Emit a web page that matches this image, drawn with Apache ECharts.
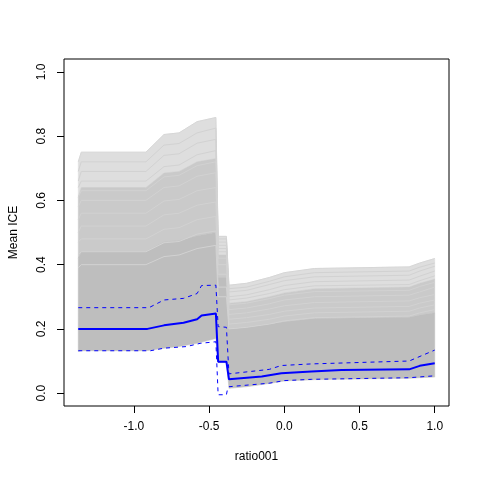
<!DOCTYPE html>
<html>
<head>
<meta charset="utf-8">
<script src="https://cdn.jsdelivr.net/npm/echarts@6/dist/echarts.min.js"></script>
<style>
  html, body { margin: 0; padding: 0; background: #fff; }
  #chart-ice { width: 480px; height: 480px; }
</style>
</head>
<body>
<div id="chart-ice"></div>
<script>
// grid of x values shared by the grey ICE curves and their envelopes
var xGrid = [-1.37, -1.35, -0.92, -0.80, -0.70, -0.58, -0.455, -0.44, -0.385, -0.368, -0.25, -0.10, 0.00, 0.20, 0.83, 0.90, 1.00];

// envelopes of the grey curves: bottom, top of the solid part, top of the medium part, top of everything
var iceLower = [0.130, 0.132, 0.132, 0.140, 0.145, 0.155, 0.170, 0.095, 0.095, 0.015, 0.020, 0.030, 0.038, 0.042, 0.046, 0.048, 0.050];
var iceDense = [0.420, 0.440, 0.440, 0.470, 0.475, 0.490, 0.500, 0.360, 0.360, 0.200, 0.205, 0.215, 0.222, 0.232, 0.236, 0.243, 0.250];
var iceMid   = [0.610, 0.640, 0.640, 0.685, 0.690, 0.720, 0.730, 0.430, 0.430, 0.280, 0.285, 0.300, 0.312, 0.325, 0.330, 0.342, 0.355];
var iceTop   = [0.720, 0.750, 0.750, 0.805, 0.810, 0.845, 0.858, 0.488, 0.488, 0.336, 0.342, 0.360, 0.375, 0.388, 0.393, 0.405, 0.419];

// single ICE curves visible in the sparse upper part
var iceCurves = [
    [0.39, 0.40, 0.40, 0.425, 0.430, 0.450, 0.460, 0.30, 0.30, 0.200, 0.205, 0.215, 0.225, 0.235, 0.240, 0.250, 0.260],
    [0.43, 0.44, 0.44, 0.468, 0.472, 0.495, 0.505, 0.33, 0.33, 0.215, 0.220, 0.230, 0.240, 0.250, 0.255, 0.265, 0.275],
    [0.47, 0.48, 0.48, 0.510, 0.515, 0.540, 0.550, 0.37, 0.37, 0.230, 0.235, 0.245, 0.255, 0.265, 0.270, 0.280, 0.290],
    [0.50, 0.52, 0.52, 0.555, 0.560, 0.585, 0.595, 0.40, 0.40, 0.245, 0.250, 0.262, 0.272, 0.282, 0.287, 0.297, 0.307],
    [0.54, 0.56, 0.56, 0.598, 0.603, 0.630, 0.640, 0.42, 0.42, 0.260, 0.265, 0.278, 0.290, 0.300, 0.305, 0.315, 0.330],
    [0.58, 0.60, 0.60, 0.640, 0.645, 0.675, 0.686, 0.44, 0.44, 0.275, 0.280, 0.294, 0.305, 0.316, 0.320, 0.332, 0.345],
    [0.61, 0.63, 0.63, 0.673, 0.678, 0.708, 0.720, 0.45, 0.45, 0.290, 0.296, 0.310, 0.322, 0.334, 0.338, 0.350, 0.365],
    [0.64, 0.66, 0.66, 0.705, 0.710, 0.742, 0.755, 0.46, 0.46, 0.300, 0.306, 0.322, 0.335, 0.347, 0.352, 0.364, 0.380],
    [0.66, 0.69, 0.69, 0.740, 0.745, 0.778, 0.790, 0.47, 0.47, 0.315, 0.320, 0.338, 0.350, 0.362, 0.367, 0.380, 0.395],
    [0.69, 0.72, 0.72, 0.772, 0.777, 0.810, 0.825, 0.48, 0.48, 0.325, 0.330, 0.348, 0.362, 0.375, 0.380, 0.392, 0.405]
];

// mean ICE (solid blue)
var meanX = [-1.37, -0.91, -0.80, -0.67, -0.58, -0.55, -0.455, -0.44, -0.385, -0.368, -0.15, -0.02, 0.18, 0.38, 0.83, 0.90, 1.00];
var meanY = [0.200, 0.200, 0.211, 0.219, 0.230, 0.242, 0.248, 0.098, 0.098, 0.043, 0.052, 0.062, 0.067, 0.072, 0.074, 0.085, 0.093];

// upper and lower band (dashed blue)
var upperX = [-1.37, -0.90, -0.80, -0.67, -0.58, -0.55, -0.455, -0.44, -0.385, -0.368, -0.10, -0.02, 0.18, 0.83, 1.00];
var upperY = [0.266, 0.266, 0.290, 0.295, 0.310, 0.335, 0.336, 0.207, 0.205, 0.060, 0.074, 0.086, 0.091, 0.100, 0.134];
var lowerX = [-1.37, -0.89, -0.80, -0.65, -0.56, -0.455, -0.44, -0.385, -0.378, -0.368, -0.10, 0.00, 0.18, 0.83, 1.00];
var lowerY = [0.132, 0.132, 0.140, 0.145, 0.155, 0.160, -0.005, -0.005, 0.012, 0.020, 0.031, 0.039, 0.043, 0.048, 0.054];

var xTicks = [-1.0, -0.5, 0.0, 0.5, 1.0];
var yTicks = [0.0, 0.2, 0.4, 0.6, 0.8, 1.0];

function pairs(xs, ys) {
    return xs.map(function (x, i) { return [x, ys[i]]; });
}

// filled band between two envelopes, placed through the axes
function band(hi, lo, color) {
    return {
        type: 'custom',
        silent: true,
        data: [0],
        renderItem: function (params, api) {
            var pts = [];
            var i;
            for (i = 0; i < xGrid.length; i++) pts.push(api.coord([xGrid[i], hi[i]]));
            for (i = xGrid.length - 1; i >= 0; i--) pts.push(api.coord([xGrid[i], lo[i]]));
            return {
                type: 'polygon',
                shape: { points: pts },
                style: { fill: color, stroke: color, lineWidth: 0.5 }
            };
        }
    };
}

var echartIce = echarts.init(document.getElementById('chart-ice'));

var txt = { color: '#000', fontFamily: 'Liberation Sans', fontSize: 12 };

var series = [
    band(iceTop, iceMid, '#dedede'),
    band(iceMid, iceDense, '#cacaca'),
    band(iceDense, iceLower, '#bebebe'),
    {
        type: 'line', symbol: 'none', silent: true,
        lineStyle: { width: 1, color: '#d6d6d6' },
        data: pairs(xGrid, iceTop)
    }
];

iceCurves.forEach(function (c) {
    series.push({
        type: 'line', symbol: 'none', silent: true,
        lineStyle: { width: 1, color: '#d2d2d2' },
        data: pairs(xGrid, c)
    });
});

series.push(
    {
        type: 'line', symbol: 'none', silent: true,
        lineStyle: { width: 1, color: '#0000ff', type: [4, 4] },
        data: pairs(upperX, upperY)
    },
    {
        type: 'line', symbol: 'none', silent: true,
        lineStyle: { width: 1, color: '#0000ff', type: [4, 4] },
        data: pairs(lowerX, lowerY)
    },
    {
        type: 'line', symbol: 'none', silent: true,
        lineStyle: { width: 2, color: '#0000ff' },
        data: pairs(meanX, meanY)
    }
);

var optionIce = {
    animation: false,
    textStyle: txt,
    grid: {
        left: 59, right: 31, top: 59, bottom: 74,
        show: true,
        borderColor: '#000',
        borderWidth: 1,
        backgroundColor: 'transparent'
    },
    xAxis: {
        type: 'value',
        min: -1.4648,
        max: 1.0948,
        name: 'ratio001',
        nameLocation: 'middle',
        nameGap: 45,
        nameTextStyle: txt,
        axisLine: { show: false, onZero: false },
        axisTick: { show: true, length: 7, customValues: xTicks, lineStyle: { color: '#000' } },
        axisLabel: {
            margin: 15, color: '#000', fontFamily: 'Liberation Sans', fontSize: 12,
            customValues: xTicks,
            formatter: function (v) { return v.toFixed(1); }
        },
        splitLine: { show: false }
    },
    yAxis: {
        type: 'value',
        min: -0.04,
        max: 1.04,
        name: 'Mean ICE',
        nameLocation: 'middle',
        nameGap: 44,
        nameRotate: 90,
        nameTextStyle: txt,
        axisLine: { show: false, onZero: false },
        axisTick: { show: true, length: 7, customValues: yTicks, lineStyle: { color: '#000' } },
        axisLabel: {
            margin: 16, rotate: 90, color: '#000', fontFamily: 'Liberation Sans', fontSize: 12,
            customValues: yTicks,
            formatter: function (v) { return v.toFixed(1); }
        },
        splitLine: { show: false }
    },
    series: series
};
echartIce.setOption(optionIce);
</script>
</body>
</html>
